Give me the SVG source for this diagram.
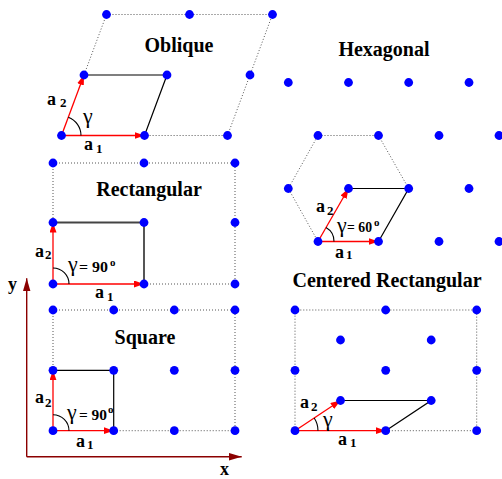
<svg xmlns="http://www.w3.org/2000/svg" width="502" height="479" viewBox="0 0 502 479">
<defs>
<style>
.dot{fill:#0000ff}
.dotted{fill:none;stroke:#555;stroke-width:1;stroke-dasharray:1,2}
.solid{fill:none;stroke:#000;stroke-width:1.2}
.vec{fill:none;stroke:#ff0000;stroke-width:1.3;marker-end:url(#redhead)}
.arc{fill:none;stroke:#000;stroke-width:1.1}
.axis{fill:none;stroke:#8b0000;stroke-width:1.4;marker-end:url(#axhead)}
.title{font-family:"Liberation Serif","Times New Roman",serif;font-weight:bold;font-size:20px;fill:#000;text-anchor:middle}
.lab{font-family:"Liberation Serif","Times New Roman",serif;font-weight:bold;font-size:18px;fill:#000}
.sub{font-family:"Liberation Serif","Times New Roman",serif;font-weight:bold;font-size:13px;fill:#000}
.gam{font-family:"Liberation Serif","Times New Roman",serif;font-size:22px;fill:#000}
.ang{font-family:"Liberation Serif","Times New Roman",serif;font-weight:bold;font-size:14px;fill:#000}
.deg{font-family:"Liberation Serif","Times New Roman",serif;font-weight:bold;font-size:11px;fill:#000}
</style>
<marker id="redhead" markerUnits="userSpaceOnUse" markerWidth="11" markerHeight="8" refX="10" refY="3.5" orient="auto">
<path d="M0,0 L10,3.5 L0,7 z" fill="#ff0000"/>
</marker>
<marker id="axhead" markerUnits="userSpaceOnUse" markerWidth="14" markerHeight="9" refX="13" refY="3.8" orient="auto">
<path d="M0,0 L13,3.8 L0,7.6 z" fill="#8b0000"/>
</marker>
</defs>

<g id="axes">
<path class="axis" d="M26.7,456.7 L26.7,278.3"/>
<path class="axis" d="M26.7,456.7 L241.7,456.7"/>
<text class="lab" x="8" y="290">y</text>
<text class="lab" x="220" y="475">x</text>
</g>

<g id="oblique">
<text class="title" x="179" y="52">Oblique</text>
<g class="connectors">
<path class="dotted" d="M106.5,14.5 L272.5,14.5 L227.5,135.5 L144.5,135.5 M106.5,14.5 L84,75"/>
<path class="solid" d="M84,75 L167,75 L144.5,135.5"/>
<path class="vec" d="M61.5,135.5 L144.5,135.5"/>
<path class="vec" d="M61.5,135.5 L84,75"/>
<path class="arc" d="M81,135.5 A19.5,19.5 0 0 0 68.3,117.3"/>
</g>
<g class="nodes">
<circle class="dot" cx="106.5" cy="14.5" r="4.4"/>
<circle class="dot" cx="189.5" cy="14.5" r="4.4"/>
<circle class="dot" cx="272.5" cy="14.5" r="4.4"/>
<circle class="dot" cx="84" cy="75" r="4.4"/>
<circle class="dot" cx="167" cy="75" r="4.4"/>
<circle class="dot" cx="250" cy="75" r="4.4"/>
<circle class="dot" cx="61.5" cy="135.5" r="4.4"/>
<circle class="dot" cx="144.5" cy="135.5" r="4.4"/>
<circle class="dot" cx="227.5" cy="135.5" r="4.4"/>
</g>
<text class="lab" x="47" y="105">a</text><text class="sub" x="60" y="107">2</text>
<text class="gam" x="83" y="123">γ</text>
<text class="lab" x="84" y="150">a</text><text class="sub" x="96" y="153">1</text>
</g>

<g id="rectangular">
<text class="title" x="149" y="196">Rectangular</text>
<g class="connectors">
<path class="dotted" d="M53,163 L235,163 L235,284 L144,284 M53,163 L53,222.5"/>
<path class="solid" style="stroke:#444;stroke-width:1.8" d="M53,222.5 L144,222.5 L144,284"/>
<path class="vec" d="M53,284 L144,284"/>
<path class="vec" d="M53,284 L53,222.5"/>
<path class="arc" d="M69,284 A16,16 0 0 0 53,268"/>
</g>
<g class="nodes">
<circle class="dot" cx="53" cy="163" r="4.4"/>
<circle class="dot" cx="144" cy="163" r="4.4"/>
<circle class="dot" cx="235" cy="163" r="4.4"/>
<circle class="dot" cx="53" cy="222.5" r="4.4"/>
<circle class="dot" cx="144" cy="222.5" r="4.4"/>
<circle class="dot" cx="235" cy="222.5" r="4.4"/>
<circle class="dot" cx="53" cy="284" r="4.4"/>
<circle class="dot" cx="144" cy="284" r="4.4"/>
<circle class="dot" cx="235" cy="284" r="4.4"/>
</g>
<text class="lab" x="35" y="257">a</text><text class="sub" x="45" y="259">2</text>
<text class="gam" x="68" y="271">γ</text>
<text class="ang" x="79" y="271.5" textLength="29" lengthAdjust="spacingAndGlyphs">= 90</text>
<text class="deg" x="110" y="266">o</text>
<text class="lab" x="95" y="298">a</text><text class="sub" x="107" y="300.5">1</text>
</g>

<g id="square">
<text class="title" x="145" y="343.5">Square</text>
<g class="connectors">
<path class="dotted" d="M53,310 L235,310 L235,430.7 L113.7,430.7 M53,310 L53,370.3"/>
<path class="solid" d="M53,370.3 L113.7,370.3 L113.7,430.7"/>
<path class="vec" d="M53,430.7 L113.7,430.7"/>
<path class="vec" d="M53,430.7 L53,370.3"/>
<path class="arc" d="M69,430.7 A16,16 0 0 0 53,414.7"/>
</g>
<g class="nodes">
<circle class="dot" cx="53" cy="310" r="4.4"/>
<circle class="dot" cx="113.7" cy="310" r="4.4"/>
<circle class="dot" cx="174.3" cy="310" r="4.4"/>
<circle class="dot" cx="235" cy="310" r="4.4"/>
<circle class="dot" cx="53" cy="370.3" r="4.4"/>
<circle class="dot" cx="113.7" cy="370.3" r="4.4"/>
<circle class="dot" cx="174.3" cy="370.3" r="4.4"/>
<circle class="dot" cx="235" cy="370.3" r="4.4"/>
<circle class="dot" cx="53" cy="430.7" r="4.4"/>
<circle class="dot" cx="113.7" cy="430.7" r="4.4"/>
<circle class="dot" cx="174.3" cy="430.7" r="4.4"/>
<circle class="dot" cx="235" cy="430.7" r="4.4"/>
</g>
<text class="lab" x="35" y="403">a</text><text class="sub" x="45" y="406.5">2</text>
<text class="gam" x="67" y="419">γ</text>
<text class="ang" x="79" y="420" textLength="28" lengthAdjust="spacingAndGlyphs">= 90</text>
<text class="deg" x="108" y="413">o</text>
<text class="lab" x="76" y="447">a</text><text class="sub" x="87" y="449">1</text>
</g>

<g id="hexagonal">
<text class="title" x="384" y="56">Hexagonal</text>
<g class="connectors">
<path class="dotted" d="M408.7,188.5 L378.5,135.5 L318,135.5 L288.3,188.5 L318,241.5"/>
<path class="solid" d="M348.5,188.5 L408.7,188.5 L378.5,241.5"/>
<path class="vec" d="M318,241.5 L378.5,241.5"/>
<path class="vec" d="M318,241.5 L348.5,188.5"/>
<path class="arc" d="M334,241.5 A16,16 0 0 0 326,227.6"/>
</g>
<g class="nodes">
<circle class="dot" cx="288.3" cy="82.5" r="4.4"/>
<circle class="dot" cx="348.5" cy="82.5" r="4.4"/>
<circle class="dot" cx="408.7" cy="82.5" r="4.4"/>
<circle class="dot" cx="469" cy="82.5" r="4.4"/>
<circle class="dot" cx="318" cy="135.5" r="4.4"/>
<circle class="dot" cx="378.5" cy="135.5" r="4.4"/>
<circle class="dot" cx="439" cy="135.5" r="4.4"/>
<circle class="dot" cx="499" cy="135.5" r="4.4"/>
<circle class="dot" cx="288.3" cy="188.5" r="4.4"/>
<circle class="dot" cx="348.5" cy="188.5" r="4.4"/>
<circle class="dot" cx="408.7" cy="188.5" r="4.4"/>
<circle class="dot" cx="469" cy="188.5" r="4.4"/>
<circle class="dot" cx="318" cy="241.5" r="4.4"/>
<circle class="dot" cx="378.5" cy="241.5" r="4.4"/>
<circle class="dot" cx="439" cy="241.5" r="4.4"/>
<circle class="dot" cx="499" cy="241.5" r="4.4"/>
</g>
<text class="lab" x="316" y="212">a</text><text class="sub" x="327" y="214.5">2</text>
<text class="gam" x="337" y="231.5">γ</text>
<text class="ang" x="347" y="232" textLength="25" lengthAdjust="spacingAndGlyphs">= 60</text>
<text class="deg" x="374" y="226">o</text>
<text class="lab" x="335" y="257.5">a</text><text class="sub" x="346" y="259">1</text>
</g>

<g id="centered-rectangular">
<text class="title" x="387" y="286.5">Centered Rectangular</text>
<g class="connectors">
<path class="dotted" d="M295,430.7 L295,310 L476.7,310 L476.7,430.7 L385.7,430.7"/>
<path class="solid" d="M340.5,400.5 L431.2,400.5 L385.7,430.7"/>
<path class="vec" d="M295,430.7 L385.7,430.7"/>
<path class="vec" d="M295,430.7 L340.5,400.5"/>
<path class="arc" d="M318,430.7 A23,23 0 0 0 314.2,418"/>
</g>
<g class="nodes">
<circle class="dot" cx="295" cy="310" r="4.4"/>
<circle class="dot" cx="385.7" cy="310" r="4.4"/>
<circle class="dot" cx="476.7" cy="310" r="4.4"/>
<circle class="dot" cx="340.5" cy="340" r="4.4"/>
<circle class="dot" cx="431.2" cy="340" r="4.4"/>
<circle class="dot" cx="295" cy="370.3" r="4.4"/>
<circle class="dot" cx="385.7" cy="370.3" r="4.4"/>
<circle class="dot" cx="476.7" cy="370.3" r="4.4"/>
<circle class="dot" cx="340.5" cy="400.5" r="4.4"/>
<circle class="dot" cx="431.2" cy="400.5" r="4.4"/>
<circle class="dot" cx="295" cy="430.7" r="4.4"/>
<circle class="dot" cx="385.7" cy="430.7" r="4.4"/>
<circle class="dot" cx="476.7" cy="430.7" r="4.4"/>
</g>
<text class="lab" x="300" y="408">a</text><text class="sub" x="311" y="410.5">2</text>
<text class="gam" x="323" y="426">γ</text>
<text class="lab" x="338" y="445">a</text><text class="sub" x="350" y="447">1</text>
</g>
</svg>
